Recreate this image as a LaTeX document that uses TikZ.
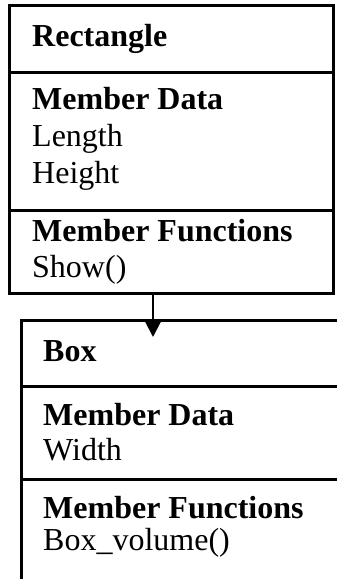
\documentclass[tikz,border=0pt]{standalone}
\usepackage{fontspec}
\setmainfont{Liberation Serif}
\usetikzlibrary{arrows.meta}
\newcommand{\umlfont}{\fontsize{32}{37}\selectfont}

\begin{document}
\begin{tikzpicture}[x=1pt,y=-1pt,
    border/.style={line width=3pt},
    entry/.style={anchor=base west,inner sep=0pt,font=\umlfont},
    head/.style={entry,font=\umlfont\bfseries}]
    \useasboundingbox (0,0) rectangle (337,579);
    % class Rectangle
    \node[draw,border,minimum width=324pt,minimum height=288pt,inner sep=0pt] (rect) at (171,149) {};
    \draw[border] (9,72) -- (333,72) (9,210) -- (333,210);
    \node[head] (rname) at (32,46) {Rectangle};
    \node[head] (rdata) at (32,109) {Member Data};
    \node[entry] (rlen) at (32,146) {Length};
    \node[entry] (rhgt) at (32,183) {Height};
    \node[head] (rfun) at (32,241) {Member Functions};
    \node[entry] (rshow) at (32,277) {Show()};
    % class Box
    \draw[border] (337,320) -- (21,320) -- (21,579);
    \draw[border] (21,386) -- (337,386) (21,479) -- (337,479);
    \node[head] (bname) at (43,361) {Box};
    \node[head] (bdata) at (43,425) {Member Data};
    \node[entry] (bwid) at (43,460) {Width};
    \node[head] (bfun) at (43,518) {Member Functions};
    \node[entry] (bvol) at (43,550) {Box\_volume()};
    % inheritance
    \coordinate (tip) at (153,337);
    \draw[line width=2pt,-{Triangle[width=15pt,length=15pt]}] (rect.south -| tip) -- (tip);
\end{tikzpicture}
\end{document}
